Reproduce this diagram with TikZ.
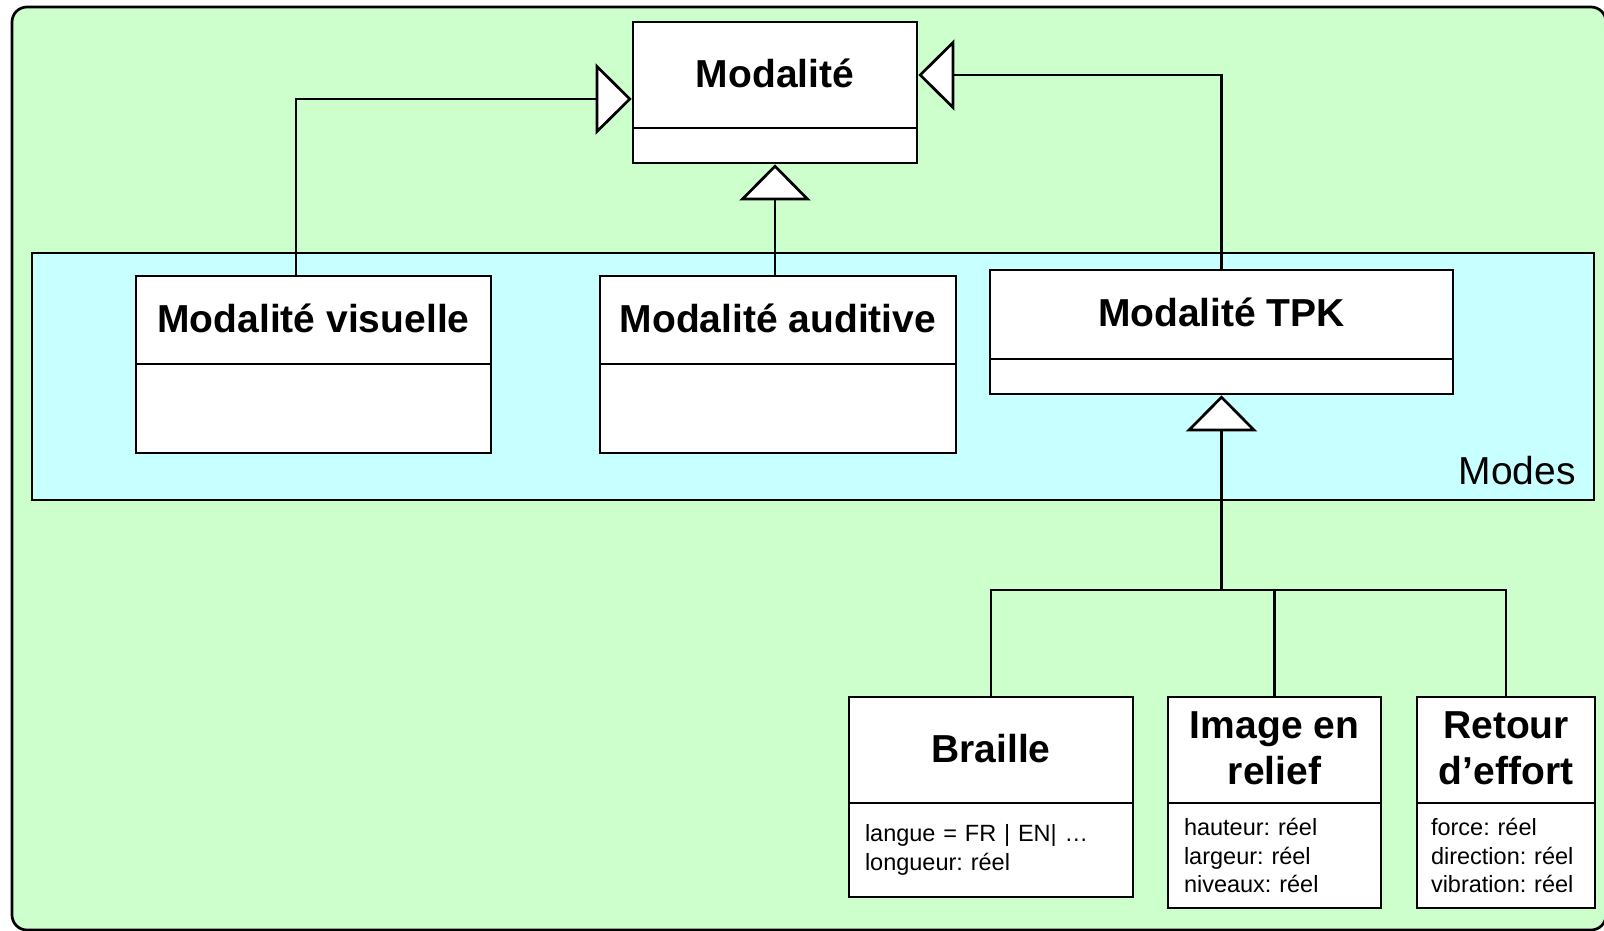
\documentclass[tikz,border=0pt]{standalone}
\usepackage{fontspec}
\setmainfont{Liberation Sans}
\usetikzlibrary{arrows.meta}
\definecolor{pkgbg}{HTML}{CCFFCC}
\definecolor{modebg}{HTML}{C8FFFF}

\begin{document}
\begin{tikzpicture}[x=1pt, y=-1pt, line width=2.7pt,
  hdrbase/.style={draw, fill=white, inner sep=0pt, align=center,
    font=\fontsize{39}{46}\selectfont\bfseries},
  hdr/.style={hdrbase, text height=28pt, text depth=4pt},
  hdrtwo/.style={hdrbase, text depth=4pt},
  cbody/.style={draw, fill=white, inner sep=0pt},
  attrs/.style={draw, fill=white, inner xsep=16pt, inner ysep=0pt, align=left,
    font=\fontsize{23.5}{28.6}\selectfont\frenchspacing},
  gen/.style={-{Triangle[length=36pt, width=71pt, fill=white]}}
]
\useasboundingbox (0,0) rectangle (1604,930);
\fill[white] (0,0) rectangle (1604,930);

% package background and the Modes frame
\draw[fill=pkgbg, rounded corners=15pt] (12,7) rectangle (1606,930);
\draw[fill=modebg] (32,253) rectangle (1594,500);
\node[anchor=base east, inner sep=0pt, font=\fontsize{39}{46}\selectfont] (modes) at (1577,484) {Modes};

% classes
\node[hdr, minimum width=284pt, minimum height=106pt] (mod) at (775,75) {Modalité};
\node[cbody, minimum width=284pt, minimum height=35pt] (modb) at (775,145.5) {};

\node[hdr, minimum width=355pt, minimum height=88pt] (vis) at (313.5,320) {Modalité visuelle};
\node[cbody, minimum width=355pt, minimum height=89pt] (visb) at (313.5,408.5) {};

\node[hdr, minimum width=356pt, minimum height=88pt] (aud) at (778,320) {Modalité auditive};
\node[cbody, minimum width=356pt, minimum height=89pt] (audb) at (778,408.5) {};

\node[hdr, minimum width=463pt, minimum height=89pt] (tpk) at (1221.5,314.5) {Modalité TPK};
\node[cbody, minimum width=463pt, minimum height=35pt] (tpkb) at (1221.5,376.5) {};

\node[hdr, minimum width=284pt, minimum height=106pt] (brl) at (991,750) {Braille};
\node[attrs, text width=252pt, minimum height=94pt] (brlb) at (991,850)
  {langue = FR | EN| …\\longueur: réel};

\node[hdrtwo, minimum width=213pt, minimum height=106pt] (img) at (1274.5,750) {Image en\\relief};
\node[attrs, text width=181pt, minimum height=105pt] (imgb) at (1274.5,855.5)
  {hauteur: réel\\largeur: réel\\niveaux: réel};

\node[hdrtwo, minimum width=178pt, minimum height=106pt] (ret) at (1506,750) {Retour\\d’effort};
\node[attrs, inner xsep=14pt, text width=150pt, minimum height=105pt] (retb) at (1506,855.5)
  {force: réel\\direction: réel\\vibration: réel};

% generalisations
\draw[gen] ([xshift=-17.5pt]vis.north) |- ([yshift=-24pt]mod.west);
\draw[gen] (aud.north -| modb.south) -- (modb.south);
\draw[gen] (tpk.north) |- (mod.east);

\coordinate (bus) at (1221.5,590);
\draw (brl.north) |- (bus);
\draw (ret.north) |- (bus);
\draw (img.north) -- (img.north |- bus);
\draw[gen] (bus) -- (tpkb.south);
\end{tikzpicture}
\end{document}
